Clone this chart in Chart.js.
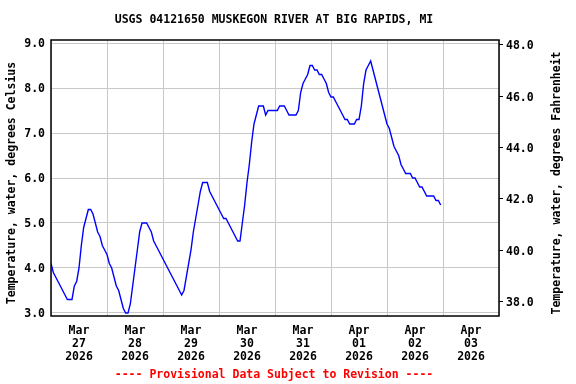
<!DOCTYPE html>
<html>
<head>
<meta charset="utf-8">
<script src="https://cdn.jsdelivr.net/npm/chart.js@4.4.1/dist/chart.umd.min.js"></script>
<style>
  html, body { margin: 0; padding: 0; background: #fff; }
  canvas { display: block; }
</style>
</head>
<body>
<canvas id="myCanvas" width="576" height="384"></canvas>
<script>
"use strict";

// day labels (ticks sit at noon, grid at midnight)
var months = ['Mar', 'Mar', 'Mar', 'Mar', 'Mar', 'Apr', 'Apr', 'Apr'];
var days = ['27', '28', '29', '30', '31', '01', '02', '03'];
var years = ['2026', '2026', '2026', '2026', '2026', '2026', '2026', '2026'];

// water temperature, deg C, hourly from Mar 27 00:00
var tempC = [
  4.1, 3.9, 3.8, 3.7, 3.6, 3.5, 3.4, 3.3, 3.3, 3.3, 3.6, 3.7,
  4.0, 4.5, 4.9, 5.1, 5.3, 5.3, 5.2, 5.0, 4.8, 4.7, 4.5, 4.4,
  4.3, 4.1, 4.0, 3.8, 3.6, 3.5, 3.3, 3.1, 3.0, 3.0, 3.2, 3.6,
  4.0, 4.4, 4.8, 5.0, 5.0, 5.0, 4.9, 4.8, 4.6, 4.5, 4.4, 4.3,
  4.2, 4.1, 4.0, 3.9, 3.8, 3.7, 3.6, 3.5, 3.4, 3.5, 3.8, 4.1,
  4.4, 4.8, 5.1, 5.4, 5.7, 5.9, 5.9, 5.9, 5.7, 5.6, 5.5, 5.4,
  5.3, 5.2, 5.1, 5.1, 5.0, 4.9, 4.8, 4.7, 4.6, 4.6, 5.0, 5.4,
  5.9, 6.3, 6.8, 7.2, 7.4, 7.6, 7.6, 7.6, 7.4, 7.5, 7.5, 7.5,
  7.5, 7.5, 7.6, 7.6, 7.6, 7.5, 7.4, 7.4, 7.4, 7.4, 7.5, 7.9,
  8.1, 8.2, 8.3, 8.5, 8.5, 8.4, 8.4, 8.3, 8.3, 8.2, 8.1, 7.9,
  7.8, 7.8, 7.7, 7.6, 7.5, 7.4, 7.3, 7.3, 7.2, 7.2, 7.2, 7.3,
  7.3, 7.6, 8.1, 8.4, 8.5, 8.6, 8.4, 8.2, 8.0, 7.8, 7.6, 7.4,
  7.2, 7.1, 6.9, 6.7, 6.6, 6.5, 6.3, 6.2, 6.1, 6.1, 6.1, 6.0,
  6.0, 5.9, 5.8, 5.8, 5.7, 5.6, 5.6, 5.6, 5.6, 5.5, 5.5, 5.4
];

var celsiusTicks = [3, 4, 5, 6, 7, 8, 9];
var fahrenheitTicks = [38, 40, 42, 44, 46, 48];

var FONT = '"DejaVu Sans Mono", "Liberation Mono", monospace';

var dayLabels = [];
for (var i = 0; i < days.length; i++) {
  dayLabels.push([months[i], days[i], years[i]]);
}

var points = [];
for (var h = 0; h < tempC.length; h++) {
  points.push({ x: h, y: tempC[h] });
}

var textPlugin = {
  id: 'usgsText',
  afterDatasetsDraw: function (chart) {
    var ctx = chart.ctx;
    var a = chart.chartArea;
    ctx.save();
    ctx.strokeStyle = '#000';
    ctx.lineWidth = 1.5;
    ctx.strokeRect(a.left, a.top, a.right - a.left, a.bottom - a.top);
    ctx.restore();
  },
  afterDraw: function (chart) {
    var ctx = chart.ctx;
    ctx.save();
    ctx.font = 'bold 11.5px ' + FONT;
    ctx.textAlign = 'center';
    ctx.textBaseline = 'middle';
    ctx.fillStyle = '#000';
    ctx.fillText('USGS 04121650 MUSKEGON RIVER AT BIG RAPIDS, MI', 274, 20);
    ctx.fillStyle = '#ff0000';
    ctx.fillText('---- Provisional Data Subject to Revision ----', 274, 375);

    ctx.fillStyle = '#000';
    ctx.save();
    ctx.translate(12, 183);
    ctx.rotate(-Math.PI / 2);
    ctx.fillText('Temperature, water, degrees Celsius', 0, 0);
    ctx.restore();

    ctx.save();
    ctx.translate(557, 183);
    ctx.rotate(-Math.PI / 2);
    ctx.fillText('Temperature, water, degrees Fahrenheit', 0, 0);
    ctx.restore();
    ctx.restore();
  }
};

var ctx = document.getElementById('myCanvas');
var tempChart = new Chart(ctx, {
  type: 'line',
  data: {
    datasets: [
      {
        label: 'Temperature',
        data: points,
        xAxisID: 'xt',
        yAxisID: 'y',
        borderColor: '#0000ff',
        borderWidth: 1.4,
        pointRadius: 0,
        fill: false,
        tension: 0
      }
    ]
  },
  options: {
    responsive: false,
    devicePixelRatio: 1,
    animation: false,
    layout: { padding: { top: 40, left: 0, right: 0, bottom: 0 } },
    plugins: {
      legend: { display: false },
      title: { display: false },
      tooltip: { enabled: false }
    },
    scales: {
      x: {
        type: 'category',
        labels: dayLabels,
        offset: true,
        position: 'bottom',
        grid: { offset: true, color: '#c8c8c8', drawTicks: false },
        border: { display: false },
        ticks: {
          autoSkip: false,
          maxRotation: 0,
          padding: 9,
          color: '#000',
          font: { family: FONT, size: 11.5, weight: 'bold', lineHeight: 1.13 }
        },
        afterFit: function (s) { s.height = 68; }
      },
      xt: {
        type: 'linear',
        display: false,
        min: 0,
        max: 192
      },
      y: {
        position: 'left',
        min: 2.933,
        max: 9.067,
        afterBuildTicks: function (s) {
          s.ticks = celsiusTicks.map(function (v) { return { value: v }; });
        },
        grid: { color: '#c8c8c8', drawTicks: false },
        border: { display: false },
        ticks: {
          padding: 6,
          labelOffset: 1.5,
          color: '#000',
          font: { family: FONT, size: 11.5, weight: 'bold' },
          callback: function (v) { return Number(v).toFixed(1); }
        },
        afterFit: function (s) { s.width = 51; }
      },
      y2: {
        position: 'right',
        min: 37.44,
        max: 48.18,
        afterBuildTicks: function (s) {
          s.ticks = fahrenheitTicks.map(function (v) { return { value: v }; });
        },
        grid: { drawOnChartArea: false, color: '#000', tickLength: 4 },
        border: { display: false },
        ticks: {
          padding: 3,
          labelOffset: 1.5,
          color: '#000',
          font: { family: FONT, size: 11.5, weight: 'bold' },
          callback: function (v) { return Number(v).toFixed(1); }
        },
        afterFit: function (s) { s.width = 77; }
      }
    }
  },
  plugins: [textPlugin]
});
</script>
</body>
</html>
